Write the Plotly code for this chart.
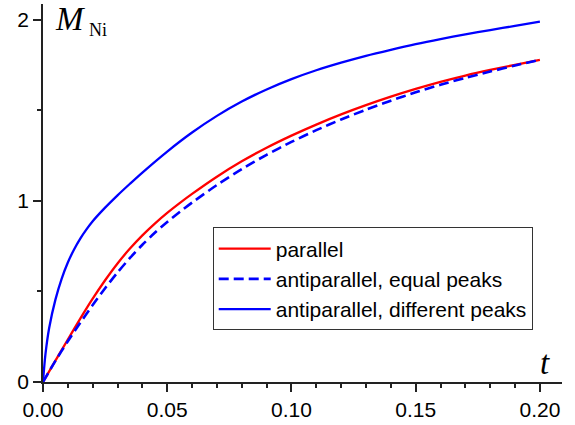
import plotly.graph_objects as go

# ---- data ----
t_par = [0, 0.005, 0.01, 0.015, 0.02, 0.025, 0.03, 0.035, 0.04, 0.045, 0.05, 0.055,
         0.06, 0.07, 0.08, 0.09, 0.10, 0.11, 0.12, 0.13, 0.14, 0.15, 0.16, 0.17,
         0.18, 0.19, 0.20]
m_par = [0, 0.118, 0.235, 0.35, 0.46, 0.562, 0.655, 0.737, 0.81, 0.875, 0.934, 0.988,
         1.039, 1.134, 1.219, 1.294, 1.361, 1.422, 1.478, 1.529, 1.576, 1.619, 1.658,
         1.693, 1.724, 1.752, 1.78]

t_eq = [0, 0.005, 0.01, 0.015, 0.02, 0.025, 0.03, 0.035, 0.04, 0.045, 0.05, 0.055,
        0.06, 0.07, 0.08, 0.09, 0.10, 0.11, 0.12, 0.13, 0.14, 0.15, 0.16, 0.17,
        0.18, 0.19, 0.20]
m_eq = [0, 0.117, 0.225, 0.327, 0.425, 0.518, 0.605, 0.685, 0.758, 0.824, 0.884, 0.939,
        0.991, 1.088, 1.176, 1.255, 1.326, 1.391, 1.45, 1.504, 1.554, 1.60, 1.642,
        1.68, 1.715, 1.748, 1.78]

t_diff = [0, 0.001, 0.0025, 0.005, 0.0075, 0.01, 0.0125, 0.015, 0.0175, 0.02, 0.025,
          0.03, 0.035, 0.04, 0.05, 0.06, 0.07, 0.08, 0.09, 0.10, 0.11, 0.12, 0.13,
          0.14, 0.15, 0.16, 0.17, 0.18, 0.19, 0.20]
m_diff = [0, 0.155, 0.30, 0.455, 0.57, 0.66, 0.732, 0.792, 0.843, 0.888, 0.963,
          1.031, 1.095, 1.157, 1.273, 1.378, 1.47, 1.549, 1.616, 1.673, 1.722, 1.764,
          1.802, 1.835, 1.866, 1.894, 1.92, 1.944, 1.967, 1.99]

names = ["parallel", "antiparallel, equal peaks", "antiparallel, different peaks"]
x_ticks = [0, 0.05, 0.10, 0.15, 0.20]
x_ticklabels = ["0.00", "0.05", "0.10", "0.15", "0.20"]
y_ticks = [0, 1, 2]
y_ticklabels = ["0", "1", "2"]

fig = go.Figure()
fig.add_trace(go.Scatter(x=t_par, y=m_par, mode="lines", name=names[0],
                         line=dict(color="#ff0000", width=2.3, shape="spline", smoothing=0.8)))
fig.add_trace(go.Scatter(x=t_eq, y=m_eq, mode="lines", name=names[1],
                         line=dict(color="#0000ff", width=2.6, dash="10px,5px",
                                   shape="spline", smoothing=0.8)))
fig.add_trace(go.Scatter(x=t_diff, y=m_diff, mode="lines", name=names[2],
                         line=dict(color="#0000ff", width=2.3, shape="spline", smoothing=0.9)))

tick_font = dict(family="Liberation Sans, Arial", size=21, color="black")

fig.update_layout(
    width=575, height=425,
    margin=dict(l=43, r=13, t=4, b=40),
    paper_bgcolor="white", plot_bgcolor="white",
    showlegend=True,
    legend=dict(x=0.327, y=0.409, xanchor="left", yanchor="top",
                bgcolor="white", bordercolor="#333333", borderwidth=1,
                font=dict(family="Liberation Sans, Arial", size=21, color="black"),
                tracegroupgap=0, itemwidth=52),
    xaxis=dict(range=[0, 0.2089], showline=True, linecolor="#222222", linewidth=1.5,
               ticks="outside", ticklen=8, tickwidth=1.5, tickcolor="#222222",
               tickvals=x_ticks, ticktext=x_ticklabels, tickfont=tick_font,
               minor=dict(dtick=0.01, ticks="outside", ticklen=4, tickwidth=1.5,
                          tickcolor="#222222", showgrid=False),
               showgrid=False, zeroline=False),
    yaxis=dict(range=[0, 2.088], showline=True, linecolor="#222222", linewidth=1.5,
               ticks="outside", ticklen=8, tickwidth=1.5, tickcolor="#222222",
               tickvals=y_ticks, ticktext=y_ticklabels, tickfont=tick_font,
               minor=dict(dtick=0.5, ticks="outside", ticklen=4, tickwidth=1.5,
                          tickcolor="#222222", showgrid=False),
               showgrid=False, zeroline=False),
    annotations=[
        dict(text="<i>M</i>", xref="paper", yref="paper", x=0.021, y=1.0105,
             xanchor="left", yanchor="top", showarrow=False, borderpad=0,
             font=dict(family="Liberation Serif, Times New Roman", size=33, color="black")),
        dict(text="Ni", xref="paper", yref="paper", x=0.085, y=0.962,
             xanchor="left", yanchor="top", showarrow=False,
             font=dict(family="Liberation Serif, Times New Roman", size=18, color="black")),
        dict(text="<i>t</i>", xref="paper", yref="paper", x=0.953, y=-0.003,
             xanchor="left", yanchor="bottom", showarrow=False,
             font=dict(family="Liberation Serif, Times New Roman", size=33, color="black")),
    ],
)

fig.write_html("out.html")
